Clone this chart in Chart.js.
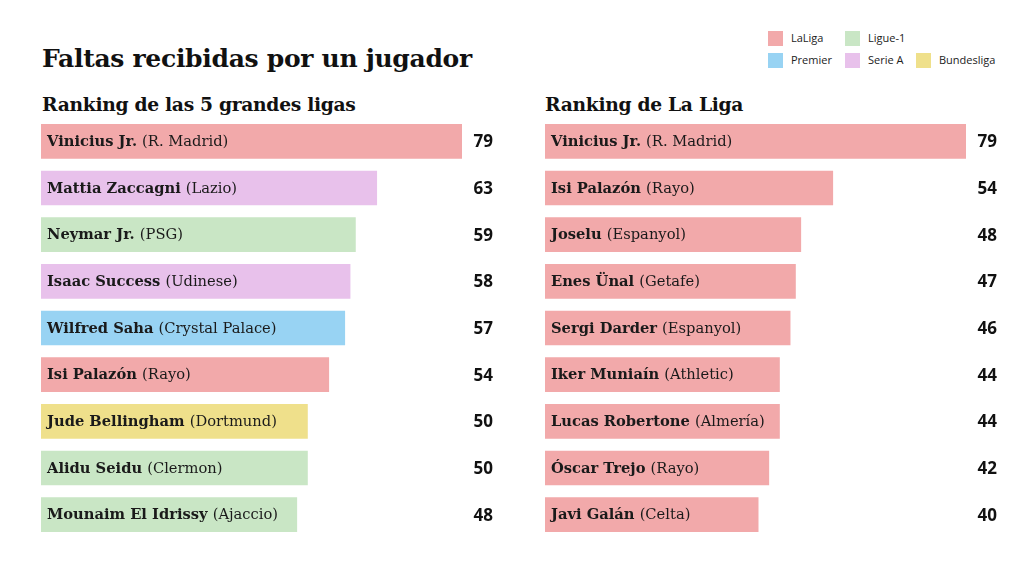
<!DOCTYPE html>
<html>
<head>
<meta charset="utf-8">
<script src="https://cdn.jsdelivr.net/npm/chart.js@4"></script>
<style>
  body { margin: 0; width: 1024px; height: 576px; background: #fff; position: relative; overflow: hidden; }
  .title { position: absolute; left: 42px; top: 44px; font: bold 25px 'DejaVu Serif', serif; color: #111; letter-spacing: -0.3px; }
  .sub { position: absolute; top: 93px; font: bold 18.7px 'DejaVu Serif', serif; color: #111; letter-spacing: -0.3px; }
  .legend { position: absolute; font: 11px 'Open Sans', sans-serif; color: #222; }
  .legend span.sw { position: absolute; width: 15px; height: 15px; }
  .legend span.tx { position: absolute; white-space: nowrap; }
  canvas { position: absolute; }
</style>
</head>
<body>
<div class="title">Faltas recibidas por un jugador</div>
<div class="sub" style="left:42px">Ranking de las 5 grandes ligas</div>
<div class="sub" style="left:545px">Ranking de La Liga</div>
<div class="legend" id="legend"></div>
<canvas id="left" width="460" height="420" style="left:41px;top:118px;width:460px;height:420px"></canvas>
<canvas id="right" width="460" height="420" style="left:545px;top:118px;width:460px;height:420px"></canvas>
<script>
// leagues and colours
const leagues = ['LaLiga', 'Ligue-1', 'Premier', 'Serie A', 'Bundesliga'];
const leagueColors = ['#f2a9aa', '#c9e6c5', '#98d3f3', '#e8c1eb', '#efe08b'];

// top 5 leagues ranking
const players1 = ['Vinicius Jr.', 'Mattia Zaccagni', 'Neymar Jr.', 'Isaac Success', 'Wilfred Saha', 'Isi Palazón', 'Jude Bellingham', 'Alidu Seidu', 'Mounaim El Idrissy'];
const teams1 = ['R. Madrid', 'Lazio', 'PSG', 'Udinese', 'Crystal Palace', 'Rayo', 'Dortmund', 'Clermon', 'Ajaccio'];
const values1 = [79, 63, 59, 58, 57, 54, 50, 50, 48];
const leagues1 = ['LaLiga', 'Serie A', 'Ligue-1', 'Serie A', 'Premier', 'LaLiga', 'Bundesliga', 'Ligue-1', 'Ligue-1'];

// La Liga ranking
const players2 = ['Vinicius Jr.', 'Isi Palazón', 'Joselu', 'Enes Ünal', 'Sergi Darder', 'Iker Muniaín', 'Lucas Robertone', 'Óscar Trejo', 'Javi Galán'];
const teams2 = ['R. Madrid', 'Rayo', 'Espanyol', 'Getafe', 'Espanyol', 'Athletic', 'Almería', 'Rayo', 'Celta'];
const values2 = [79, 54, 48, 47, 46, 44, 44, 42, 40];
const leagues2 = ['LaLiga', 'LaLiga', 'LaLiga', 'LaLiga', 'LaLiga', 'LaLiga', 'LaLiga', 'LaLiga', 'LaLiga'];

// legend (HTML)
const legendPos = [[768, 31], [845, 31], [768, 53], [845, 53], [916, 53]];
const legendEl = document.getElementById('legend');
leagues.forEach((name, i) => {
    const [x, y] = legendPos[i];
    legendEl.innerHTML += `<span class="sw" style="left:${x}px;top:${y}px;background:${leagueColors[i]}"></span>` +
        `<span class="tx" style="left:${x + 23}px;top:${y - 1}px">${name}</span>`;
});

const colorOf = l => leagueColors[leagues.indexOf(l)];

// draws player name + team inside the bar and value on the right
const barLabels = {
    id: 'barLabels',
    afterDatasetsDraw(chart, args, opts) {
        const ctx = chart.ctx;
        const meta = chart.getDatasetMeta(0);
        ctx.save();
        ctx.textBaseline = 'middle';
        meta.data.forEach((bar, i) => {
            const y = bar.y + 1;
            const x0 = chart.chartArea.left + 6;
            ctx.fillStyle = '#1a1a1a';
            ctx.textAlign = 'left';
            ctx.font = 'bold 14.7px "DejaVu Serif", serif';
            const name = opts.players[i] + ' ';
            ctx.fillText(name, x0, y);
            const w = ctx.measureText(name).width;
            ctx.font = '14.7px "DejaVu Serif", serif';
            ctx.fillText('(' + opts.teams[i] + ')', x0 + w, y);
            ctx.font = 'bold 17px "Open Sans", sans-serif';
            ctx.textAlign = 'right';
            ctx.fillStyle = '#111';
            ctx.fillText(opts.values[i], chart.width - 8, y);
        });
        ctx.restore();
    }
};

function makeChart(id, players, teams, values, lg) {
    return new Chart(document.getElementById(id), {
        type: 'bar',
        data: {
            labels: players,
            datasets: [{
                data: values,
                backgroundColor: lg.map(colorOf),
                barThickness: 34,
                borderWidth: 0
            }]
        },
        options: {
            indexAxis: 'y',
            responsive: false,
            animation: false,
            layout: { padding: { left: 0, right: 39, top: 0, bottom: 0 } },
            scales: {
                x: { display: false, min: 0, max: 79 },
                y: { display: false }
            },
            plugins: {
                legend: { display: false },
                tooltip: { enabled: false },
                barLabels: { players, teams, values }
            }
        },
        plugins: [barLabels]
    });
}

makeChart('left', players1, teams1, values1, leagues1);
makeChart('right', players2, teams2, values2, leagues2);
</script>
</body>
</html>
